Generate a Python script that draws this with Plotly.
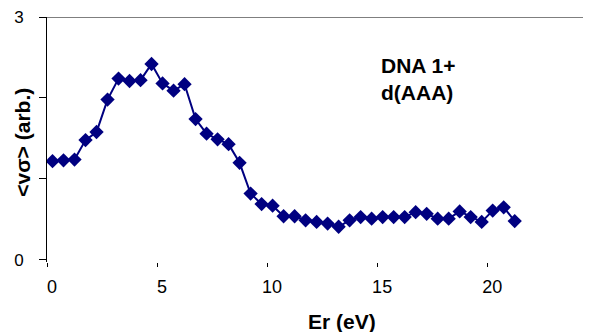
import plotly.graph_objects as go

energy_eV = [0.25, 0.75, 1.25, 1.75, 2.25, 2.75, 3.25, 3.75, 4.25, 4.75,
             5.25, 5.75, 6.25, 6.75, 7.25, 7.75, 8.25, 8.75, 9.25, 9.75,
             10.25, 10.75, 11.25, 11.75, 12.25, 12.75, 13.25, 13.75, 14.25, 14.75,
             15.25, 15.75, 16.25, 16.75, 17.25, 17.75, 18.25, 18.75, 19.25, 19.75,
             20.25, 20.75, 21.25]
vsigma = [1.22, 1.23, 1.24, 1.48, 1.58, 1.98, 2.24, 2.21, 2.22, 2.42,
          2.18, 2.09, 2.17, 1.74, 1.56, 1.49, 1.43, 1.20, 0.82, 0.69,
          0.67, 0.54, 0.54, 0.49, 0.47, 0.45, 0.41, 0.49, 0.53, 0.51,
          0.53, 0.53, 0.53, 0.59, 0.57, 0.51, 0.51, 0.60, 0.53, 0.47,
          0.61, 0.65, 0.48]

x_ticks = [0, 5, 10, 15, 20]
y_ticks = [0, 1, 2, 3]
y_ticktext = ["0", "", "", "3"]

FONT = "Liberation Sans, Arial, sans-serif"
NAVY = "#000080"

fig = go.Figure()
fig.add_trace(go.Scatter(
    x=energy_eV, y=vsigma, mode="lines+markers",
    line=dict(color=NAVY, width=2),
    marker=dict(symbol="diamond", size=11, color=NAVY),
    showlegend=False,
))

fig.update_layout(
    width=591, height=332,
    margin=dict(l=39, t=9, r=0, b=78, autoexpand=False),
    paper_bgcolor="white", plot_bgcolor="white",
    font=dict(family=FONT, color="black", size=18),
    xaxis=dict(
        range=[0, 25.08], tickvals=x_ticks, showgrid=False, zeroline=False,
        showline=False, ticks="outside", ticklen=4, tickcolor="black", tickwidth=1,
        tickfont=dict(size=18), ticklabelshift=5, ticklabelstandoff=4,
        automargin=False, ticklabeloverflow="allow",
    ),
    yaxis=dict(
        range=[-0.025, 3], tickvals=y_ticks, ticktext=y_ticktext, showgrid=False,
        zeroline=False, showline=True, linecolor="black", linewidth=1,
        ticks="outside", ticklen=7, tickcolor="black", tickwidth=1,
        tickfont=dict(size=17), ticklabelstandoff=12, automargin=False,
        ticklabeloverflow="allow",
    ),
    shapes=[dict(type="line", xref="paper", yref="y", x0=0, x1=1, y0=3, y1=3,
                 line=dict(color="#555555", width=1.5))],
    annotations=[
        dict(text="<b>DNA 1+<br>d(AAA)</b>", xref="paper", yref="paper",
             x=0.602, y=0.745, xanchor="left", yanchor="middle", align="left",
             showarrow=False, font=dict(size=21, family=FONT)),
        dict(text="<b>Er (eV)</b>", xref="paper", yref="paper",
             x=0.5336, y=0, xanchor="center", yanchor="middle", yshift=-59,
             showarrow=False, font=dict(size=21, family=FONT)),
        dict(text="<b>&lt;vσ&gt; (arb.)</b>", xref="paper", yref="paper",
             x=0, y=0.487, xanchor="center", yanchor="middle", xshift=-24,
             textangle=-90, showarrow=False, bgcolor="white",
             font=dict(size=21, family=FONT)),
    ],
)

fig.write_html("out.html")
